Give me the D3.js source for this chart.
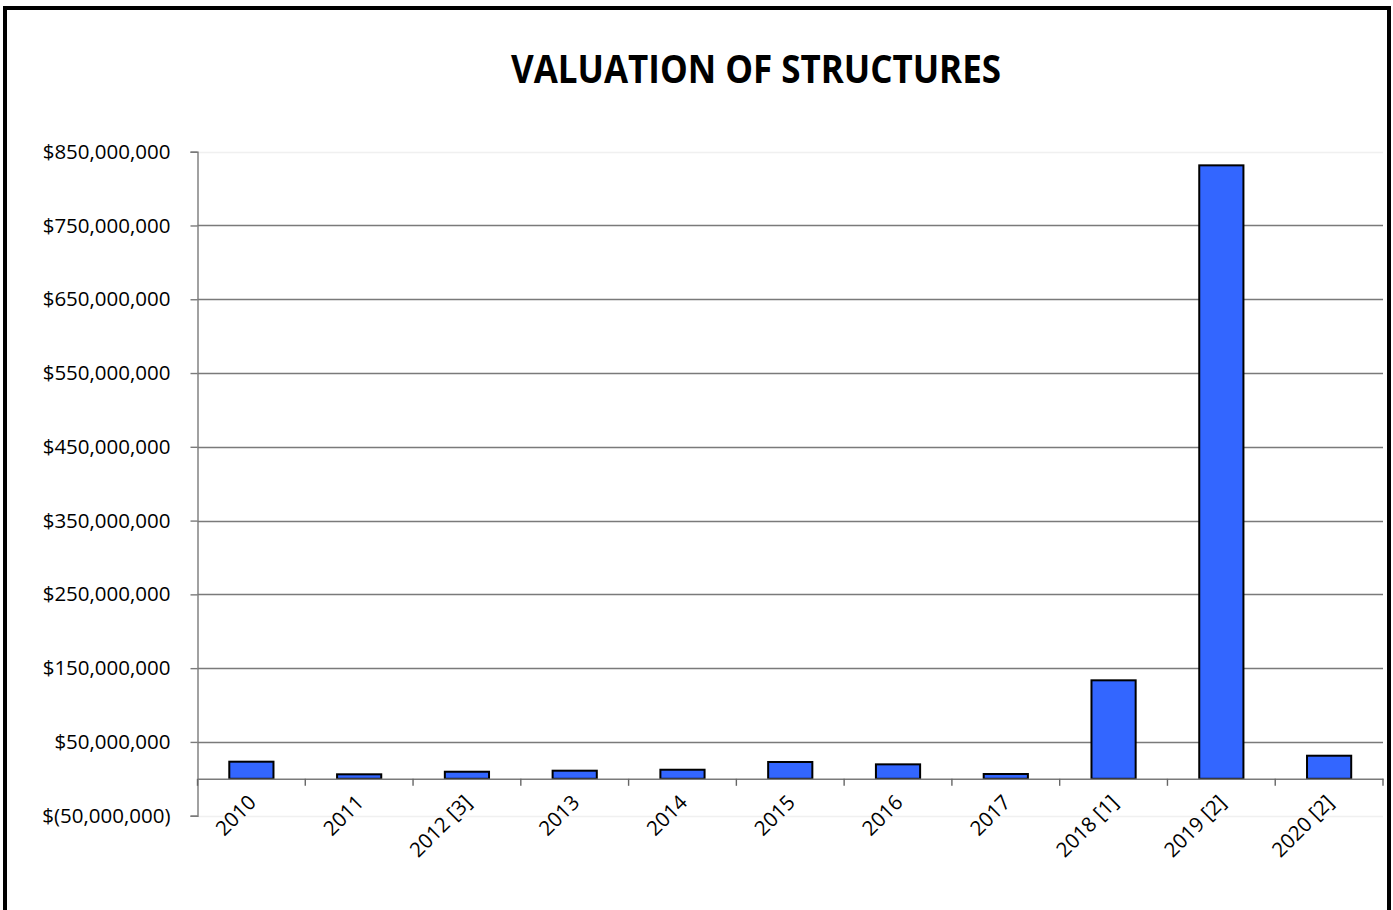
<!DOCTYPE html>
<html>
<head>
<meta charset="utf-8">
<script src="https://cdn.jsdelivr.net/npm/d3@7"></script>
<style>
  html, body { margin: 0; padding: 0; background: #fff; }
  svg { display: block; }
  text { font-family: "Open Sans", "DejaVu Sans", sans-serif; fill: #000; }
</style>
</head>
<body>
<svg id="chart" width="1393" height="910"></svg>
<script>
const title = "VALUATION OF STRUCTURES";
const categories = ["2010", "2011", "2012 [3]", "2013", "2014", "2015", "2016", "2017", "2018 [1]", "2019 [2]", "2020 [2]"];
const values = [23200000, 6100000, 9600000, 11000000, 12300000, 22800000, 19600000, 6500000, 133500000, 831500000, 31300000];
const yTicks = [-50000000, 50000000, 150000000, 250000000, 350000000, 450000000, 550000000, 650000000, 750000000, 850000000];
const yDomain = [-50000000, 850000000];

const svg = d3.select("#chart");
const plot = { left: 197.5, right: 1383, top: 151.7, bottom: 815.7 };

// outer frame
svg.append("rect")
  .attr("x", 5).attr("y", 8)
  .attr("width", 1384).attr("height", 960)
  .attr("fill", "none").attr("stroke", "#000").attr("stroke-width", 4);

const x = d3.scaleBand().domain(categories).range([plot.left, plot.right]).paddingInner(0.59).paddingOuter(0.295);
const xb = d3.scaleBand().domain(categories).range([plot.left, plot.right]);
const y = d3.scaleLinear().domain(yDomain).range([plot.bottom, plot.top]);

const fmt = v => {
  const s = d3.format(",")(Math.abs(v));
  return v < 0 ? "$(" + s + ")" : "$" + s;
};

// gridlines
svg.append("g").selectAll("line").data(yTicks).join("line")
  .attr("x1", plot.left).attr("x2", plot.right)
  .attr("y1", d => Math.round(y(d)) + 0.5).attr("y2", d => Math.round(y(d)) + 0.5)
  .attr("stroke", d => (d === yDomain[0] || d === yDomain[1]) ? "#f0f0f0" : "#7a7a7a")
  .attr("stroke-width", 1.4);

// y axis
const yAxis = d3.axisLeft(y).tickValues(yTicks).tickFormat(fmt).tickSize(7).tickPadding(20);
const gy = svg.append("g").attr("transform", `translate(${plot.left},0)`).call(yAxis);
gy.select(".domain").attr("stroke", "#7a7a7a").attr("stroke-width", 1.4);
gy.selectAll(".tick line").attr("stroke", "#7a7a7a").attr("stroke-width", 1.4);
gy.selectAll(".tick text").attr("font-size", 20.5).attr("font-family", "Open Sans").attr("fill", "#000");

// bars
svg.append("g").selectAll("rect").data(values).join("rect")
  .attr("x", (d, i) => x(categories[i]))
  .attr("width", x.bandwidth())
  .attr("y", d => y(Math.max(0, d)))
  .attr("height", d => Math.abs(y(d) - y(0)))
  .attr("fill", "#3366FF")
  .attr("stroke", "#000")
  .attr("stroke-width", 2);

// x axis at zero
const zeroY = y(0);
const xAxis = d3.axisBottom(xb).tickSize(0).tickFormat("");
const gx = svg.append("g").attr("transform", `translate(0,${zeroY})`).call(xAxis);
gx.select(".domain").attr("stroke", "#7a7a7a").attr("stroke-width", 1.5);
// category boundary tick marks
const bounds = categories.map(c => xb(c)).concat([plot.right]);
svg.append("g").selectAll("line").data(bounds).join("line")
  .attr("x1", d => d).attr("x2", d => d)
  .attr("y1", zeroY).attr("y2", zeroY + 7)
  .attr("stroke", "#666").attr("stroke-width", 1.4);

// category labels
svg.append("g").selectAll("text").data(categories).join("text")
  .attr("transform", d => `translate(${xb(d) + xb.bandwidth() / 2 + 6},${zeroY + 25}) rotate(-45)`)
  .attr("text-anchor", "end")
  .attr("font-size", 20.5)
  .text(d => d);

// title
svg.append("text")
  .attr("x", 756).attr("y", 83)
  .attr("text-anchor", "middle")
  .attr("font-size", 40)
  .attr("font-weight", "bold")
  .attr("textLength", 490)
  .attr("lengthAdjust", "spacingAndGlyphs")
  .text(title);
</script>
</body>
</html>
